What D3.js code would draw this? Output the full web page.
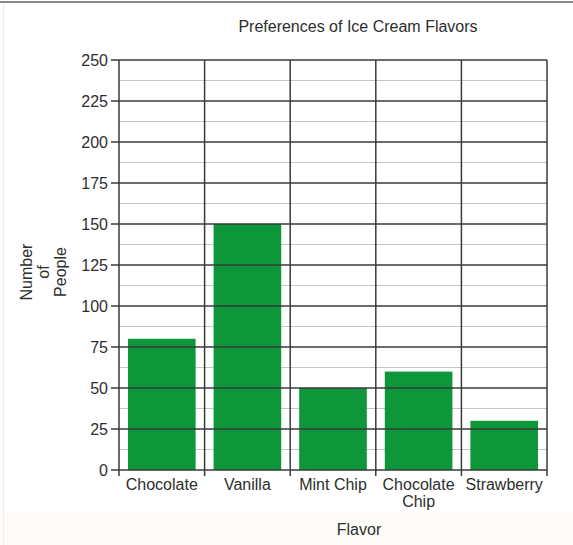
<!DOCTYPE html>
<html>
<head>
<meta charset="utf-8">
<script src="https://cdn.jsdelivr.net/npm/d3@7"></script>
<style>
  html, body { margin: 0; padding: 0; background: #ffffff; }
  svg { display: block; font-family: "Liberation Sans", Arial, sans-serif; }
</style>
</head>
<body>
<svg id="chart" width="573" height="545"></svg>
<script>
// Flavour survey data
const flavors = ["Chocolate", "Vanilla", "Mint Chip", "Chocolate Chip", "Strawberry"];
const people = [80, 150, 50, 60, 30];
const yTicks = [0, 25, 50, 75, 100, 125, 150, 175, 200, 225, 250];
const yMinor = [12.5, 37.5, 62.5, 87.5, 112.5, 137.5, 162.5, 187.5, 212.5, 237.5];

const title = "Preferences of Ice Cream Flavors";
const xTitle = "Flavor";
const yTitleLines = ["Number", "of", "People"];

const svg = d3.select("#chart");
const W = 573, H = 545;
const m = { left: 119, right: 26, top: 60, bottom: 75 };
const plotW = W - m.left - m.right;
const plotH = H - m.top - m.bottom;
const FS = 16;
const TXT = "#2e2e2e";

// faint tint band at the bottom
svg.append("rect").attr("x", 0).attr("y", 512).attr("width", W).attr("height", 33)
  .attr("fill", "#fdfcf8");
// thin frame lines along the top and left edges
svg.append("line").attr("x1", 0).attr("x2", W).attr("y1", 2).attr("y2", 2)
  .attr("stroke", "#8a8a8a").attr("stroke-width", 2);
svg.append("line").attr("x1", 3.5).attr("x2", 3.5).attr("y1", 3).attr("y2", H)
  .attr("stroke", "#ececec").attr("stroke-width", 1);

const x = d3.scaleBand().domain(flavors).range([m.left, m.left + plotW]).paddingInner(0).paddingOuter(0);
const y = d3.scaleLinear().domain([0, 250]).range([m.top + plotH, m.top]);

const g = svg.append("g");

// minor horizontal gridlines
g.selectAll("line.minor").data(yMinor).join("line")
  .attr("class", "minor")
  .attr("x1", m.left).attr("x2", m.left + plotW)
  .attr("y1", d => y(d)).attr("y2", d => y(d))
  .attr("stroke", "#c4c4c4").attr("stroke-width", 1);

// bars
const inset = x.bandwidth() * 0.105;
g.selectAll("rect.bar").data(flavors).join("rect")
  .attr("class", "bar")
  .attr("x", d => x(d) + inset)
  .attr("width", x.bandwidth() - 2 * inset)
  .attr("y", (d, i) => y(people[i]))
  .attr("height", (d, i) => y(0) - y(people[i]))
  .attr("fill", "#0e963a");

// major horizontal gridlines, drawn over bars
g.selectAll("line.major").data(yTicks).join("line")
  .attr("class", "major")
  .attr("x1", m.left - 8).attr("x2", m.left + plotW)
  .attr("y1", d => y(d)).attr("y2", d => y(d))
  .attr("stroke", "#3a3a3a").attr("stroke-width", 1.5);

// vertical category dividers
const bounds = flavors.map(d => x(d)).concat([m.left + plotW]);
g.selectAll("line.vdiv").data(bounds).join("line")
  .attr("class", "vdiv")
  .attr("x1", d => d).attr("x2", d => d)
  .attr("y1", m.top).attr("y2", m.top + plotH + 6)
  .attr("stroke", "#3a3a3a").attr("stroke-width", 1.5);

// y axis labels via d3 axis
const yAxis = d3.axisLeft(y).tickValues(yTicks).tickSize(0).tickPadding(11);
const ya = svg.append("g").attr("transform", `translate(${m.left},0)`).call(yAxis);
ya.select(".domain").remove();
ya.selectAll("text").attr("font-size", FS).attr("fill", TXT)
  .attr("font-family", "Liberation Sans, Arial, sans-serif");

// x axis category labels (wrapped)
const xa = svg.append("g").attr("transform", `translate(0,${m.top + plotH})`);
flavors.forEach(f => {
  const words = f === "Chocolate Chip" ? ["Chocolate", "Chip"] : [f];
  const t = xa.append("text")
    .attr("x", x(f) + x.bandwidth() / 2)
    .attr("y", 20)
    .attr("text-anchor", "middle")
    .attr("font-size", FS).attr("fill", TXT);
  words.forEach((w, i) => {
    t.append("tspan").attr("x", x(f) + x.bandwidth() / 2).attr("dy", i === 0 ? 0 : 17).text(w);
  });
});

// titles
svg.append("text").attr("x", 358).attr("y", 32).attr("text-anchor", "middle")
  .attr("font-size", FS).attr("fill", TXT).text(title);
svg.append("text").attr("x", 359).attr("y", 535).attr("text-anchor", "middle")
  .attr("font-size", FS).attr("fill", TXT).text(xTitle);

const yt = svg.append("text").attr("transform", "translate(32,272) rotate(-90)")
  .attr("text-anchor", "middle").attr("font-size", FS).attr("fill", TXT);
yTitleLines.forEach((w, i) => {
  yt.append("tspan").attr("x", 0).attr("dy", i === 0 ? 0 : 17).text(w);
});
</script>
</body>
</html>
